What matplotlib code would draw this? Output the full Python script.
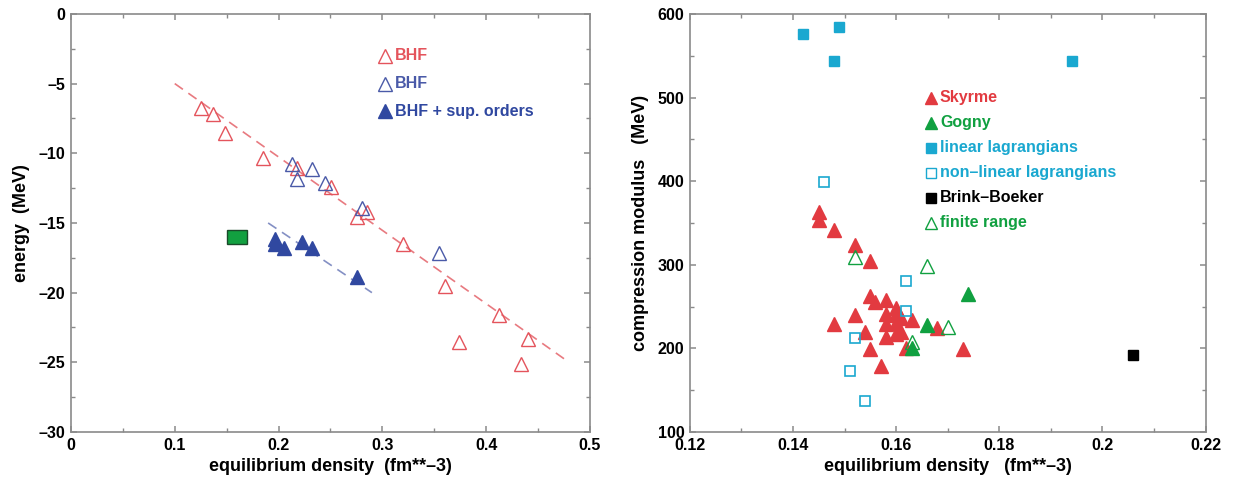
import matplotlib
matplotlib.use("Agg")
import matplotlib.pyplot as plt
from matplotlib.patches import Rectangle
from matplotlib.ticker import MultipleLocator, FuncFormatter

plt.rcParams['font.family'] = ['Liberation Sans', 'DejaVu Sans']
plt.rcParams['font.weight'] = 'bold'

# ---- left panel data: saturation points (density, energy) ----
bhf_red_x = [0.125, 0.137, 0.1485, 0.185, 0.2174, 0.2502, 0.2752, 0.2855,
             0.3196, 0.3605, 0.374, 0.4128, 0.4407, 0.4338]
bhf_red_y = [-6.77, -7.18, -8.56, -10.34, -11.08, -12.4, -14.55, -14.19,
             -16.54, -19.5, -23.52, -21.6, -23.35, -25.14]
bhf_blue_x = [0.2132, 0.2319, 0.218, 0.2447, 0.2806, 0.3548]
bhf_blue_y = [-10.77, -11.15, -11.82, -12.11, -13.95, -17.13]
bhf_sup_x = [0.1965, 0.1965, 0.2052, 0.2225, 0.2319, 0.2758]
bhf_sup_y = [-16.17, -16.51, -16.77, -16.39, -16.82, -18.86]
red_fit_x = [0.1, 0.48]
red_fit_y = [-5.0, -25.0]
blue_fit_x = [0.19, 0.29]
blue_fit_y = [-15.0, -20.0]
empirical_box = (0.15, -16.5, 0.02, 1.0)  # density range, energy range

# ---- right panel data: (density, compression modulus) ----
skyrme_x = [0.145, 0.145, 0.148, 0.152, 0.155, 0.148, 0.152, 0.155, 0.156,
            0.158, 0.158, 0.158, 0.158, 0.154, 0.155, 0.157, 0.160, 0.160,
            0.160, 0.160, 0.161, 0.161, 0.162, 0.163, 0.168, 0.173]
skyrme_y = [363, 354, 341, 324, 305, 229, 240, 263, 256, 258, 241, 229, 214,
            220, 199, 179, 248, 240, 230, 217, 236, 219, 200, 234, 224, 199]
gogny_x = [0.174, 0.166, 0.163]
gogny_y = [265, 228, 201]
linear_x = [0.142, 0.149, 0.148, 0.194]
linear_y = [576, 584, 544, 544]
nonlinear_x = [0.146, 0.162, 0.162, 0.152, 0.151, 0.154]
nonlinear_y = [399, 280, 245, 212, 173, 137]
brink_x = [0.206]
brink_y = [192]
finite_x = [0.152, 0.166, 0.170, 0.163]
finite_y = [309, 299, 225, 208]

red_l = '#e4545c'
blue_l = '#4a5aa8'
red = '#e23a40'
green = '#10a040'
cyan = '#1aa8d0'
frame = '#8a8a8a'


def dash_fmt(v, p):
    s = '0' if abs(v) < 1e-9 else f'{v:g}'
    return s.replace('-', '\u2013')


fig = plt.figure(figsize=(12.34, 4.8), dpi=100)
ax1 = fig.add_axes([0.0575, 0.1, 0.4205, 0.871])
ax2 = fig.add_axes([0.559, 0.1, 0.418, 0.871])


def style(ax):
    for s in ax.spines.values():
        s.set_color(frame)
        s.set_linewidth(1.2)
    ax.tick_params(which='both', direction='in', top=True, right=True,
                   color=frame, labelsize=11.5, pad=4)
    ax.tick_params(which='major', length=4.5, width=1.1)
    ax.tick_params(which='minor', length=3, width=1.0)
    for lab in ax.get_xticklabels() + ax.get_yticklabels():
        lab.set_fontweight('bold')
    ax.xaxis.set_major_formatter(FuncFormatter(dash_fmt))
    ax.yaxis.set_major_formatter(FuncFormatter(dash_fmt))


# left panel
ax1.plot(red_fit_x, red_fit_y, ls=(0, (6, 4)), color='#e87a80', lw=1.2)
ax1.plot(blue_fit_x, blue_fit_y, ls=(0, (6, 4)), color='#8490c4', lw=1.2)
ax1.plot(bhf_red_x, bhf_red_y, '^', ms=10, mfc='none', mec=red_l, mew=1.0, ls='none')
ax1.plot(bhf_blue_x, bhf_blue_y, '^', ms=10, mfc='none', mec=blue_l, mew=1.0, ls='none')
ax1.plot(bhf_sup_x, bhf_sup_y, '^', ms=9.5, color='#3048a0', ls='none')
ax1.add_patch(Rectangle(empirical_box[:2], empirical_box[2], empirical_box[3],
                        facecolor='#12a040', edgecolor='#1a4a2a', lw=1.0, zorder=3))
ax1.set_xlim(0, 0.5)
ax1.set_ylim(-30, 0)
ax1.xaxis.set_major_locator(MultipleLocator(0.1))
ax1.xaxis.set_minor_locator(MultipleLocator(0.05))
ax1.yaxis.set_major_locator(MultipleLocator(5))
ax1.yaxis.set_minor_locator(MultipleLocator(2.5))
ax1.set_xlabel('equilibrium density  (fm**\u20133)', fontsize=13, fontweight='bold', labelpad=4)
ax1.set_ylabel('energy  (MeV)', fontsize=13, fontweight='bold', labelpad=6)
style(ax1)

leg1 = [('BHF', red_l, 'none', -3.0), ('BHF', blue_l, 'none', -5.0),
        ('BHF + sup. orders', '#3048a0', '#3048a0', -7.0)]
for txt, c, fc, yy in leg1:
    ax1.plot([0.303], [yy], '^', ms=10, mfc=fc, mec=c, mew=1.0)
    ax1.text(0.312, yy, txt, color=c, fontsize=11.5, fontweight='bold', va='center')

# right panel
ax2.plot(skyrme_x, skyrme_y, '^', ms=9.5, color=red, ls='none')
ax2.plot(gogny_x, gogny_y, '^', ms=9.5, color=green, ls='none')
ax2.plot(finite_x, finite_y, '^', ms=10, mfc='none', mec=green, mew=1.0, ls='none')
ax2.plot(linear_x, linear_y, 's', ms=7, color=cyan, ls='none')
ax2.plot(nonlinear_x, nonlinear_y, 's', ms=7.5, mfc='none', mec=cyan, mew=1.2, ls='none')
ax2.plot(brink_x, brink_y, 's', ms=7, color='black', ls='none')
ax2.set_xlim(0.12, 0.22)
ax2.set_ylim(100, 600)
ax2.xaxis.set_major_locator(MultipleLocator(0.02))
ax2.xaxis.set_minor_locator(MultipleLocator(0.01))
ax2.yaxis.set_major_locator(MultipleLocator(100))
ax2.yaxis.set_minor_locator(MultipleLocator(50))
ax2.set_xlabel('equilibrium density   (fm**\u20133)', fontsize=13, fontweight='bold', labelpad=4)
ax2.set_ylabel('compression modulus   (MeV)', fontsize=13, fontweight='bold', labelpad=6)
style(ax2)

leg2 = [('Skyrme', '^', red, red), ('Gogny', '^', green, green),
        ('linear lagrangians', 's', cyan, cyan),
        ('non\u2013linear lagrangians', 's', cyan, 'none'),
        ('Brink\u2013Boeker', 's', 'black', 'black'),
        ('finite range', '^', green, 'none')]
leg2_y = [500, 470, 440, 410, 380, 350]
for (txt, m, c, fc), yy in zip(leg2, leg2_y):
    ax2.plot([0.1667], [yy], m, ms=8.5 if m == '^' else 7, mfc=fc, mec=c, mew=1.0)
    ax2.text(0.1685, yy, txt, color=c, fontsize=11.5, fontweight='bold', va='center')

fig.savefig('out.png', dpi=100)
